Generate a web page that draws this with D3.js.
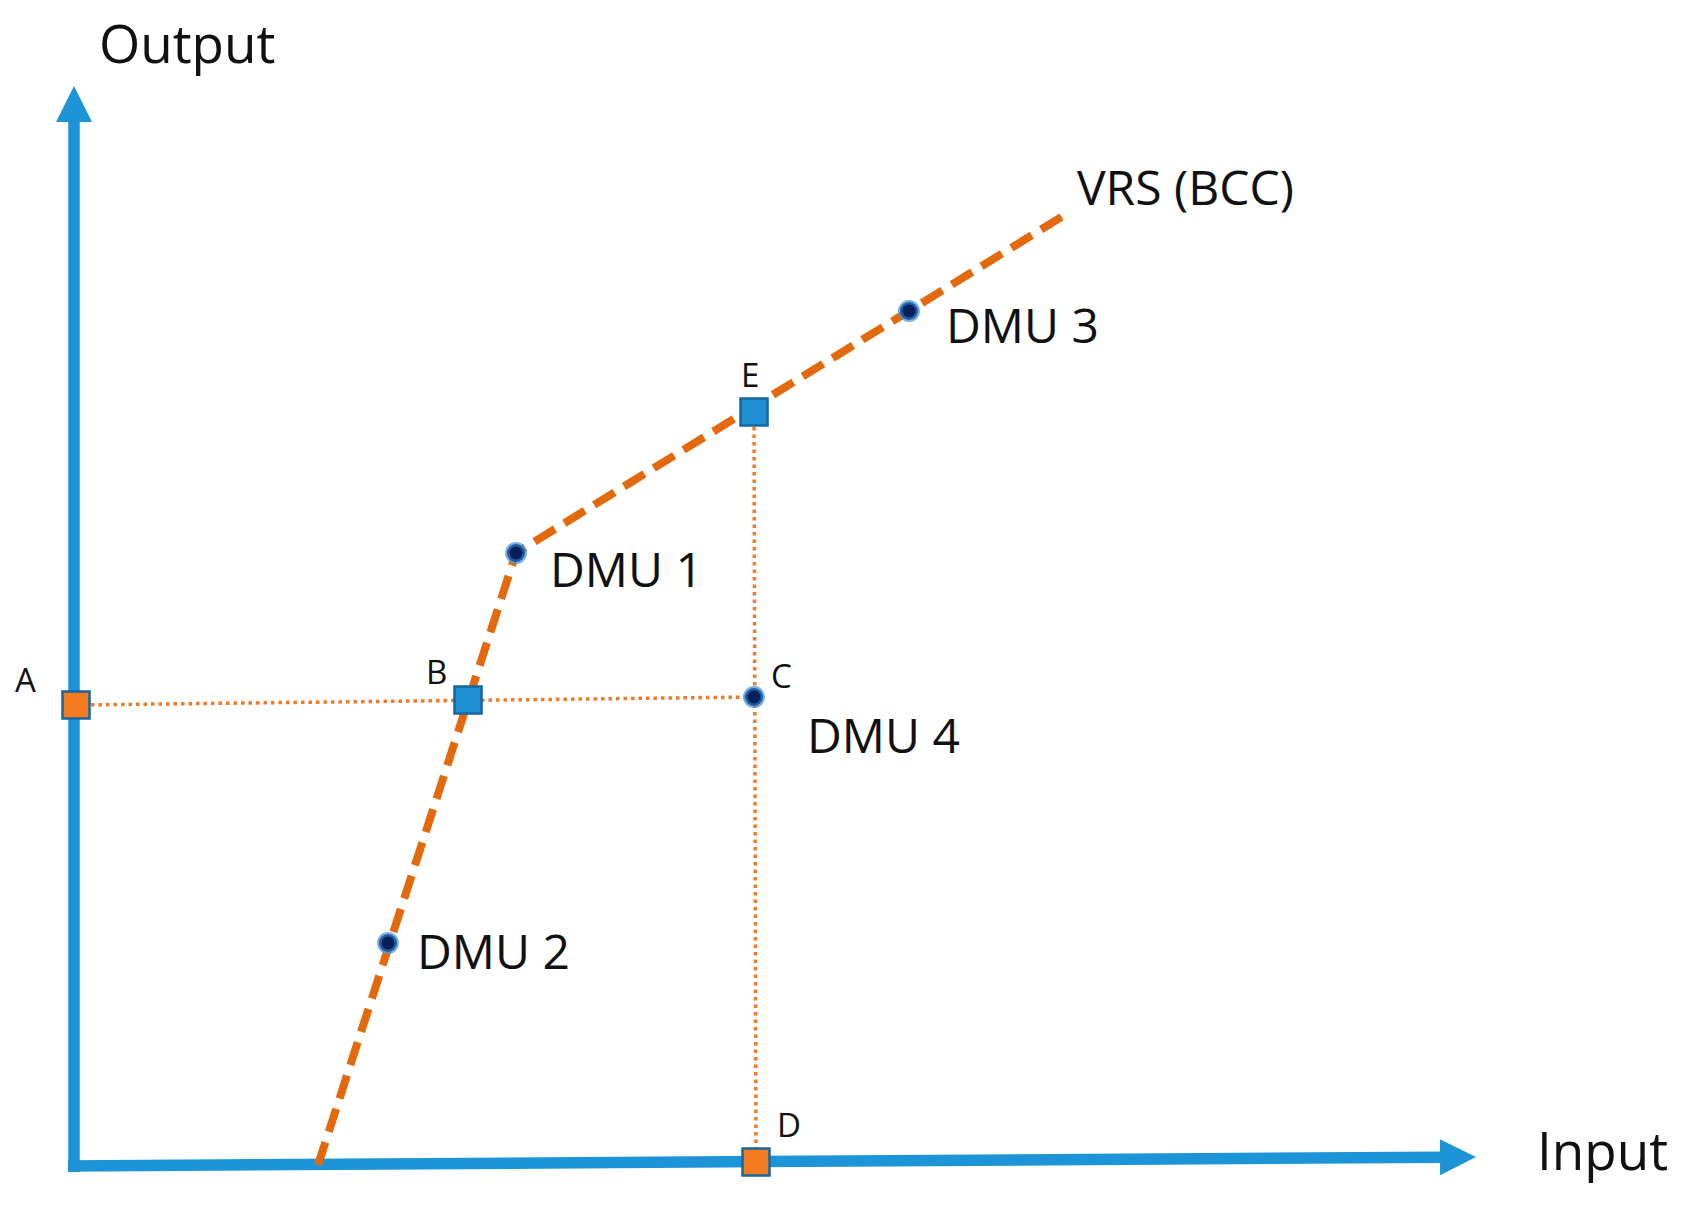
<!DOCTYPE html>
<html>
<head>
<meta charset="utf-8">
<script src="https://cdn.jsdelivr.net/npm/d3@7/dist/d3.min.js"></script>
<style>
  html, body { margin: 0; padding: 0; background: #ffffff; }
  svg { display: block; }
  text { font-family: "Open Sans", "Noto Sans", sans-serif; fill: #111111; }
</style>
</head>
<body>
<svg id="chart" width="1691" height="1206"></svg>
<script>
// ---- data (abstract input/output units) ----
const axisLabels = ["Input", "Output"];
const axisEnds = [14.02, 10.77];               // arrow tips of x and y axes
const xAxisLevel = [-0.03, 0.06];              // x-axis height at its start and tip (slight tilt in source)
const frontierX = [2.44, 4.42, 8.35, 9.89];     // VRS (BCC) frontier
const frontierY = [-0.02, 6.10, 8.52, 9.47];
const frontierLabel = "VRS (BCC)";
const dmuNames = ["DMU 1", "DMU 2", "DMU 3", "DMU 4"];
const dmuX = [4.42, 3.14, 8.35, 6.80];
const dmuY = [6.10, 2.20, 8.52, 4.66];
const projNames = ["A", "B", "D", "E"];
const projX = [0.02, 3.94, 6.82, 6.80];
const projY = [4.58, 4.63, 0.01, 7.51];
const projKind = ["orange", "blue", "orange", "blue"];
const cLabel = "C";

// ---- scales ----
const x = d3.scaleLinear().domain([0, 1]).range([74, 174]);
const y = d3.scaleLinear().domain([0, 1]).range([1163, 1063]);

const svg = d3.select("#chart");
const AX = "#1d94d7";
const OR = "#e4690c";
const ORD = "#f07a26";

// ---- dotted guide lines: A -> C, E -> D ----
const dot = d3.line().x(d => x(d[0])).y(d => y(d[1]));
svg.append("path")
  .attr("d", dot([[projX[0], projY[0]], [dmuX[3], dmuY[3]]]))
  .attr("fill", "none").attr("stroke", ORD).attr("stroke-width", 3.5)
  .attr("stroke-dasharray", "3.5,4");
svg.append("path")
  .attr("d", dot([[projX[3], projY[3]], [projX[2], projY[2]]]))
  .attr("fill", "none").attr("stroke", ORD).attr("stroke-width", 3.5)
  .attr("stroke-dasharray", "3.5,4");

// ---- axes with arrows ----
const head = 36;
const x0 = x(0) - 6, y0 = y(xAxisLevel[0]);
const x1 = x(axisEnds[0]), y1 = y(xAxisLevel[1]);
const ang = Math.atan2(y1 - y0, x1 - x0);
const bx = x1 - head * Math.cos(ang), by = y1 - head * Math.sin(ang);
svg.append("line")
  .attr("x1", x0).attr("y1", y0).attr("x2", bx + 2 * Math.cos(ang)).attr("y2", by + 2 * Math.sin(ang))
  .attr("stroke", AX).attr("stroke-width", 11.5);
svg.append("path")
  .attr("d", `M${x1},${y1} L${bx - 18 * Math.sin(ang)},${by + 18 * Math.cos(ang)} L${bx + 18 * Math.sin(ang)},${by - 18 * Math.cos(ang)} Z`)
  .attr("fill", AX);
svg.append("line")
  .attr("x1", x(0)).attr("y1", y(xAxisLevel[0]) + 6).attr("x2", x(0)).attr("y2", y(axisEnds[1]) + head - 2)
  .attr("stroke", AX).attr("stroke-width", 11.5);
svg.append("path")
  .attr("d", `M${x(0)},${y(axisEnds[1])} L${x(0) - 18},${y(axisEnds[1]) + head} L${x(0) + 18},${y(axisEnds[1]) + head} Z`)
  .attr("fill", AX);

// ---- frontier ----
const frontier = frontierX.map((v, i) => [v, frontierY[i]]);
svg.append("path")
  .attr("d", dot(frontier))
  .attr("fill", "none").attr("stroke", OR).attr("stroke-width", 8)
  .attr("stroke-dasharray", "24,11").attr("stroke-linejoin", "round");

// ---- projection squares ----
const sq = 27;
projNames.forEach((n, i) => {
  svg.append("rect")
    .attr("x", x(projX[i]) - sq / 2).attr("y", y(projY[i]) - sq / 2)
    .attr("width", sq).attr("height", sq)
    .attr("fill", projKind[i] === "orange" ? "#f47b20" : "#1f8fd4")
    .attr("stroke", "#15679f").attr("stroke-width", 2.5);
});

// ---- DMU points ----
dmuNames.forEach((n, i) => {
  svg.append("circle")
    .attr("cx", x(dmuX[i])).attr("cy", y(dmuY[i])).attr("r", 11)
    .attr("fill", "#4a98d4").attr("opacity", 0.75);
  svg.append("circle")
    .attr("cx", x(dmuX[i])).attr("cy", y(dmuY[i])).attr("r", 9)
    .attr("fill", "#1d5fa4");
  svg.append("circle")
    .attr("cx", x(dmuX[i])).attr("cy", y(dmuY[i])).attr("r", 6.5)
    .attr("fill", "#0a1f5a");
});

// ---- labels ----
svg.append("text").attr("x", 99).attr("y", 63).attr("font-size", 53).text(axisLabels[1]);
svg.append("text").attr("x", 1537).attr("y", 1170).attr("font-size", 53).text(axisLabels[0]);
svg.append("text").attr("x", 1077).attr("y", 205).attr("font-size", 48).text(frontierLabel);

const dmuLabelPos = [[550, 587], [417, 969], [946, 343], [807, 753]];
dmuNames.forEach((n, i) => {
  svg.append("text").attr("x", dmuLabelPos[i][0]).attr("y", dmuLabelPos[i][1])
    .attr("font-size", 48).text(n);
});

const projLabelPos = [[15, 692], [426, 684], [777, 1137], [741, 387]];
projNames.forEach((n, i) => {
  svg.append("text").attr("x", projLabelPos[i][0]).attr("y", projLabelPos[i][1])
    .attr("font-size", 33).text(n);
});
svg.append("text").attr("x", 771).attr("y", 688).attr("font-size", 33).text(cLabel);
</script>
</body>
</html>
